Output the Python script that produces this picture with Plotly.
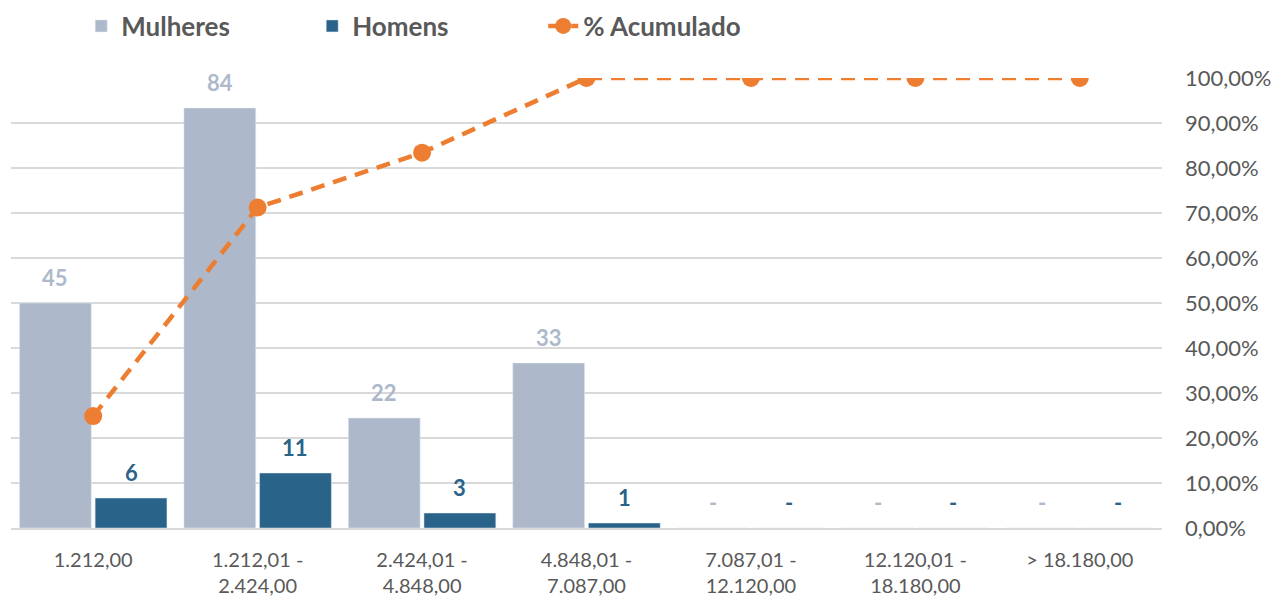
import plotly.graph_objects as go

categories = ["1.212,00", "1.212,01 -<br>2.424,00", "2.424,01 -<br>4.848,00",
              "4.848,01 -<br>7.087,00", "7.087,01 -<br>12.120,00",
              "12.120,01 -<br>18.180,00", "> 18.180,00"]
mulheres = [45, 84, 22, 33, 0, 0, 0]
homens = [6, 11, 3, 1, 0, 0, 0]
acumulado = [0.2488, 0.7122, 0.8341, 1.0, 1.0, 1.0, 1.0]

C_M = "#ADB9CA"
C_H = "#2A6389"
C_O = "#ED7D31"
GRAY = "#595959"
FONT = "Lato"

BARGAP = 0.08
half = (1 - BARGAP) / 4  # center offset of each bar in a group of two

fig = go.Figure()
fig.add_trace(go.Bar(x=list(range(7)), y=mulheres, name="<b>Mulheres</b>", marker_color=C_M,
                     yaxis="y"))
fig.add_trace(go.Bar(x=list(range(7)), y=homens, name="<b>Homens</b>", marker_color=C_H,
                     yaxis="y"))
fig.add_trace(go.Scatter(x=list(range(7)), y=acumulado, name="<b>% Acumulado</b>", yaxis="y2",
                         mode="lines+markers",
                         line=dict(color=C_O, width=4.5, dash="14px,9px"),
                         marker=dict(color=C_O, size=18)))

annotations = []
for i, (m, h) in enumerate(zip(mulheres, homens)):
    for val, off, col in ((m, -half, C_M), (h, half, C_H)):
        annotations.append(dict(x=i + off, y=val, xref="x", yref="y",
                                text="<b>%s</b>" % (str(val) if val else "-"), showarrow=False,
                                yanchor="bottom", yshift=10,
                                font=dict(family=FONT, size=22, color=col)))

fig.update_layout(
    width=1282, height=601,
    margin=dict(l=11, r=120, t=78, b=73, autoexpand=False),
    paper_bgcolor="white", plot_bgcolor="white",
    separators=",.",
    barmode="group", bargap=BARGAP, bargroupgap=0.05,
    font=dict(family=FONT, color=GRAY, size=20),
    showlegend=True,
    legend=dict(orientation="h", x=0.061, xanchor="left",
                yref="container", y=1 - 26 / 601, yanchor="middle",
                font=dict(family=FONT, size=26, color=GRAY),
                entrywidth=186, entrywidthmode="pixels", tracegroupgap=0),
    xaxis=dict(tickmode="array", tickvals=list(range(7)), ticktext=categories,
               range=[-0.5, 6.5], showgrid=False, showline=True, linecolor="#D9D9D9",
               linewidth=2, ticks="", ticklabelstandoff=13,
               tickfont=dict(family=FONT, size=20, color=GRAY)),
    yaxis=dict(range=[0, 90], showgrid=False, showticklabels=False, zeroline=False,
               visible=False),
    yaxis2=dict(range=[0, 1], overlaying="y", side="right", tickformat=".2%",
                dtick=0.1, tick0=0, showgrid=True, gridcolor="#D9D9D9", gridwidth=2,
                zeroline=False, ticks="", ticklabelstandoff=22,
                tickfont=dict(family=FONT, size=22, color=GRAY)),
    annotations=annotations,
)
fig.write_html("out.html", config={"displayModeBar": False},
               post_script="document.body.style.margin='0';document.body.style.overflow='hidden';")
